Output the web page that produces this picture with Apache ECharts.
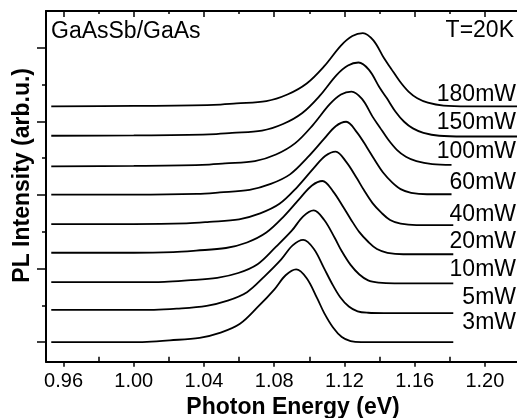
<!DOCTYPE html>
<html>
<head>
<meta charset="utf-8">
<script src="https://cdn.jsdelivr.net/npm/echarts@6.0.0/dist/echarts.min.js"></script>
<style>
  html, body { margin: 0; padding: 0; background: #fff; }
  #main { width: 517px; height: 418px; }
</style>
</head>
<body>
<div id="main"></div>
<script>
// PL spectra, [photon energy (eV), offset intensity (arb.u.)]
var spec3mW = [[0.953,0],[0.995,0],[1.0075,0.01],[1.0205,0.05],[1.0375,0.12],[1.0495,0.26],[1.0605,0.50],[1.0705,0.95],[1.080,1.43],[1.0865,1.82],[1.0925,1.98],[1.0985,1.74],[1.1045,1.19],[1.1085,0.79],[1.1135,0.40],[1.1185,0.14],[1.1235,0.03],[1.1295,0],[1.182,0]];
var spec5mW = [[0.953,0.88],[1.0115,0.88],[1.0245,0.91],[1.0415,0.99],[1.0535,1.13],[1.0645,1.36],[1.0745,1.79],[1.084,2.25],[1.0905,2.63],[1.0965,2.78],[1.1025,2.54],[1.1085,2.00],[1.1125,1.63],[1.1175,1.23],[1.1225,0.97],[1.1275,0.84],[1.1335,0.80],[1.1425,0.79],[1.182,0.79]];
var spec10mW = [[0.953,1.63],[1.0,1.63],[1.0175,1.64],[1.0305,1.68],[1.0475,1.75],[1.0595,1.88],[1.0705,2.12],[1.0805,2.57],[1.090,3.03],[1.0965,3.42],[1.1025,3.58],[1.1085,3.32],[1.1145,2.83],[1.1185,2.47],[1.1235,2.10],[1.1285,1.84],[1.1335,1.68],[1.1395,1.62],[1.1485,1.60],[1.182,1.60]];
var spec20mW = [[0.953,2.43],[1.0,2.43],[1.0225,2.45],[1.0355,2.49],[1.0525,2.56],[1.0645,2.71],[1.0755,2.98],[1.0855,3.42],[1.095,3.93],[1.1015,4.26],[1.1075,4.38],[1.1135,4.10],[1.1195,3.66],[1.1235,3.35],[1.1285,2.99],[1.1335,2.73],[1.1385,2.53],[1.1445,2.43],[1.1535,2.39],[1.182,2.39]];
var spec40mW = [[0.953,3.21],[1.0,3.21],[1.030,3.23],[1.043,3.27],[1.060,3.34],[1.072,3.50],[1.083,3.76],[1.093,4.21],[1.1025,4.73],[1.109,5.06],[1.115,5.18],[1.121,4.90],[1.127,4.46],[1.131,4.14],[1.136,3.78],[1.141,3.52],[1.146,3.32],[1.152,3.22],[1.161,3.18],[1.182,3.18]];
var spec60mW = [[0.953,4.01],[1.0,4.01],[1.036,4.03],[1.049,4.07],[1.066,4.14],[1.078,4.30],[1.089,4.56],[1.099,5.02],[1.1085,5.53],[1.115,5.87],[1.121,5.99],[1.127,5.71],[1.133,5.28],[1.137,4.97],[1.142,4.61],[1.147,4.35],[1.152,4.16],[1.158,4.06],[1.167,4.02],[1.181,4.02]];
var spec100mW = [[0.953,4.78],[1.0,4.79],[1.039,4.82],[1.052,4.86],[1.069,4.92],[1.081,5.10],[1.092,5.41],[1.102,5.90],[1.1115,6.46],[1.118,6.73],[1.124,6.81],[1.130,6.61],[1.136,6.13],[1.140,5.85],[1.145,5.50],[1.150,5.22],[1.155,5.04],[1.161,4.92],[1.170,4.84],[1.181,4.82]];
var spec150mW = [[0.953,5.61],[1.0,5.62],[1.043,5.65],[1.056,5.69],[1.073,5.75],[1.085,5.93],[1.096,6.23],[1.106,6.70],[1.1155,7.26],[1.122,7.52],[1.128,7.60],[1.134,7.40],[1.140,6.92],[1.144,6.64],[1.149,6.27],[1.154,5.99],[1.159,5.81],[1.165,5.69],[1.174,5.61],[1.188,5.59],[1.22,5.59]];
var spec180mW = [[0.953,6.41],[1.0,6.42],[1.0455,6.45],[1.0585,6.49],[1.0755,6.55],[1.0875,6.73],[1.0985,7.03],[1.1085,7.50],[1.118,8.06],[1.1245,8.32],[1.1305,8.40],[1.1365,8.20],[1.1425,7.72],[1.1465,7.44],[1.1515,7.09],[1.1565,6.81],[1.1615,6.63],[1.1675,6.51],[1.1765,6.43],[1.1905,6.41],[1.22,6.41]];

var powers = ['3mW', '5mW', '10mW', '20mW', '40mW', '60mW', '100mW', '150mW', '180mW'];
var spectra = [spec3mW, spec5mW, spec10mW, spec20mW, spec40mW, spec60mW, spec100mW, spec150mW, spec180mW];

var xMajor = [0.96, 1.00, 1.04, 1.08, 1.12, 1.16, 1.20];
var xMinor = [0.98, 1.02, 1.06, 1.10, 1.14, 1.18];
var yMajor = [0, 2, 4, 6, 8];
var yMinor = [1, 3, 5, 7];

// where the power labels sit (pixel rows, right aligned)
var labelY = [322.5, 298, 270, 242, 215, 183, 152, 122.5, 95];

var font = 'Liberation Sans';
var chart = echarts.init(document.getElementById('main'));

function xAx(pos, ticks, inside, len, extra) {
  var ax = {
    type: 'value', min: 0.95, max: 1.22, position: pos,
    axisLine: { show: false, onZero: false },
    axisTick: { show: true, inside: inside, length: len, customValues: ticks, lineStyle: { color: '#000', width: 1.5 } },
    axisLabel: { show: false },
    splitLine: { show: false }
  };
  return Object.assign(ax, extra || {});
}
function yAx(ticks, len, extra) {
  var ax = {
    type: 'value', min: -0.53, max: 9, position: 'left',
    axisLine: { show: false, onZero: false },
    axisTick: { show: true, inside: false, length: len, customValues: ticks, lineStyle: { color: '#000', width: 1.5 } },
    axisLabel: { show: false },
    splitLine: { show: false }
  };
  return Object.assign(ax, extra || {});
}

var series = spectra.map(function (d, i) {
  return {
    name: powers[i],
    type: 'line',
    data: d,
    xAxisIndex: 0,
    yAxisIndex: 0,
    showSymbol: false,
    smooth: 0.35,
    lineStyle: { color: '#000', width: 1.8 },
    silent: true
  };
});

var labels = powers.map(function (p, i) {
  return {
    type: 'text', x: 516, y: labelY[i],
    style: { text: p, fill: '#000', font: '23px "' + font + '"', align: 'right', verticalAlign: 'middle', textAlign: 'right', textVerticalAlign: 'middle' }
  };
});

var option = {
  animation: false,
  backgroundColor: '#fff',
  grid: { left: 46, right: -3, top: 11, bottom: 56.3, containLabel: false, outerBoundsMode: 'none' },
  xAxis: [
    xAx('bottom', xMajor, false, 5, {
      axisLine: { show: true, onZero: false, lineStyle: { color: '#000', width: 2 } },
      axisLabel: {
        show: true, customValues: xMajor, margin: 10, fontSize: 20, color: '#000', fontFamily: font,
        formatter: function (v) { return v.toFixed(2); }
      },
      name: 'Photon Energy (eV)', nameLocation: 'middle', nameGap: 34,
      nameTextStyle: { fontSize: 23, fontWeight: 'bold', color: '#000', fontFamily: font, padding: [0, 0, 0, 20] }
    }),
    xAx('bottom', xMinor, true, 5),
    xAx('top', xMajor, true, 6, { axisLine: { show: true, onZero: false, lineStyle: { color: '#000', width: 2 } } }),
    xAx('top', xMinor, true, 3)
  ],
  yAxis: [
    yAx(yMajor, 9, {
      axisLine: { show: true, onZero: false, lineStyle: { color: '#000', width: 2 } },
      name: 'PL Intensity (arb.u.)', nameLocation: 'middle', nameGap: 12,
      nameTextStyle: { fontSize: 23, fontWeight: 'bold', color: '#000', fontFamily: font, padding: [0, 0, 0, 22] }
    }),
    yAx(yMinor, 4)
  ],
  graphic: labels.concat([
    { type: 'text', x: 51, y: 31.5, style: { text: 'GaAsSb/GaAs', fill: '#000', font: '23px "' + font + '"', align: 'left', verticalAlign: 'middle', textAlign: 'left', textVerticalAlign: 'middle' } },
    { type: 'text', x: 514, y: 30.5, style: { text: 'T=20K', fill: '#000', font: '23px "' + font + '"', align: 'right', verticalAlign: 'middle', textAlign: 'right', textVerticalAlign: 'middle' } }
  ]),
  series: series
};

chart.setOption(option);
</script>
</body>
</html>
